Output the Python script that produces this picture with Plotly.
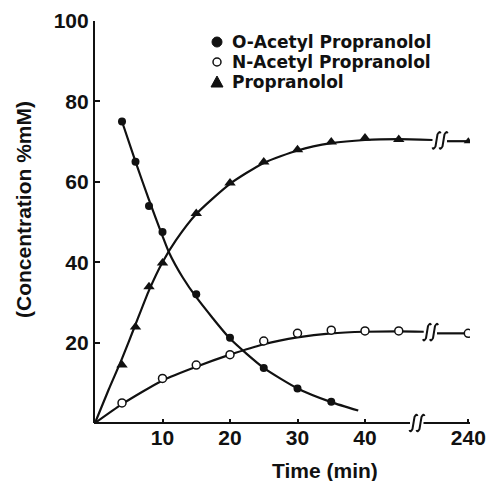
import plotly.graph_objects as go

# ---------------- data ----------------
# measured points (time in min, concentration %mM)
time_o = [4, 6, 8, 10, 15, 20, 25, 30, 35]
o_acetyl = [75, 65, 54, 47.5, 32, 21.2, 13.7, 8.6, 5.3]

time_n = [4, 10, 15, 20, 25, 30, 35, 40, 45]
n_acetyl = [5.0, 11.1, 14.4, 17.0, 20.4, 22.3, 23.1, 22.9, 22.9]

time_p = [4, 6, 8, 10, 15, 20, 25, 30, 35, 40, 45]
propranolol = [14.4, 23.9, 33.9, 39.8, 52.1, 59.7, 64.9, 68.0, 69.9, 70.9, 70.5]

# values at the late time point (beyond the axis break)
time_late = [240]
n_acetyl_late = [22.3]
propranolol_late = [70.1]

# fitted curves as drawn in the reference
fit_o_t = [4, 6, 8, 10, 11, 13, 15, 20, 25, 30, 35, 39]
fit_o_y = [75, 65, 55.5, 46.5, 42.3, 36.2, 31.3, 21.0, 13.7, 8.6, 5.2, 3.1]
fit_p_t = [0, 2, 4, 6, 8, 10, 12, 15, 20, 25, 30, 35, 40, 45, 50]
fit_p_y = [0, 8.2, 16, 24.5, 33, 40, 45.5, 52, 59.5, 64.7, 67.8, 69.6, 70.4, 70.6, 70.4]
fit_n_t = [0, 4, 10, 15, 20, 25, 30, 35, 40, 45, 48.7]
fit_n_y = [0, 4.7, 10.6, 14.0, 17.0, 19.6, 21.3, 22.3, 22.7, 22.8, 22.7]

y_ticks = [20, 40, 60, 80, 100]
x_ticks = [10, 20, 30, 40]
x_ticks_late = [240]
legend_names = ["O-Acetyl Propranolol", "N-Acetyl Propranolol", "Propranolol"]

# ---------------- layout geometry (pixels) ----------------
W, H = 487, 481
L, R, T, B = 95, 17, 21, 58
PW = W - L - R
PH = H - T - B
PXU = 6.75  # pixels per minute on both x pieces


def pxx(px):
    return (px - L) / PW


def pxy(py):
    return (H - B - py) / PH


X1_END = 433.5
X2_START = 410
X2_MAX = 240 + (470 - 468.3) / PXU

FONT = "Liberation Sans, Arial, Helvetica, sans-serif"
LEG_FONT = "DejaVu Sans, Liberation Sans, Arial, sans-serif"
BLACK = "#111111"
LW = 2.2

fig = go.Figure()

line_style = dict(color=BLACK, width=LW, shape="spline", smoothing=0.6)
fig.add_trace(go.Scatter(x=fit_o_t, y=fit_o_y, mode="lines", line=line_style,
                         hoverinfo="skip", showlegend=False))
fig.add_trace(go.Scatter(x=fit_p_t, y=fit_p_y, mode="lines", line=line_style,
                         hoverinfo="skip", showlegend=False))
fig.add_trace(go.Scatter(x=fit_n_t, y=fit_n_y, mode="lines", line=line_style,
                         hoverinfo="skip", showlegend=False))

# post-break segments (from the break glyph to the 240-min value)
P_RESUME = X2_MAX - (470 - 447) / PXU
N_RESUME = X2_MAX - (470 - 437) / PXU
fig.add_trace(go.Scatter(x=[P_RESUME, time_late[0]], y=[propranolol_late[0]] * 2,
                         mode="lines", line=dict(color=BLACK, width=LW),
                         xaxis="x2", yaxis="y", hoverinfo="skip", showlegend=False))
fig.add_trace(go.Scatter(x=[N_RESUME, time_late[0]], y=[n_acetyl_late[0]] * 2,
                         mode="lines", line=dict(color=BLACK, width=LW),
                         xaxis="x2", yaxis="y", hoverinfo="skip", showlegend=False))

# markers
fig.add_trace(go.Scatter(x=time_o, y=o_acetyl, mode="markers", name=legend_names[0],
                         marker=dict(symbol="circle", size=8, color=BLACK),
                         showlegend=False))
fig.add_trace(go.Scatter(x=time_n, y=n_acetyl, mode="markers", name=legend_names[1],
                         marker=dict(symbol="circle", size=8, color="white",
                                     line=dict(color=BLACK, width=1.5)),
                         showlegend=False))
fig.add_trace(go.Scatter(x=time_p, y=propranolol, mode="markers", name=legend_names[2],
                         marker=dict(symbol="triangle-up", size=10, color=BLACK),
                         showlegend=False))
fig.add_trace(go.Scatter(x=time_late, y=n_acetyl_late, mode="markers", xaxis="x2", yaxis="y",
                         marker=dict(symbol="circle", size=8, color="white",
                                     line=dict(color=BLACK, width=1.5)),
                         showlegend=False))
fig.add_trace(go.Scatter(x=time_late, y=propranolol_late, mode="markers", xaxis="x2", yaxis="y",
                         marker=dict(symbol="triangle-up", size=8, color=BLACK),
                         showlegend=False))

shapes = []
# x-axis line in two pieces
shapes.append(dict(type="line", xref="paper", yref="paper", x0=pxx(L - 1), x1=pxx(410), y0=0, y1=0,
                   line=dict(color=BLACK, width=LW)))
shapes.append(dict(type="line", xref="paper", yref="paper", x0=pxx(423.5), x1=pxx(470), y0=0, y1=0,
                   line=dict(color=BLACK, width=LW)))

GLYPH = "M 4,7 Q 3,10 1,6 L -1,-6 Q -3,-10 -4,-7"


def break_glyph(px, yanchor, yref):
    return dict(type="path", xref="paper", xsizemode="pixel", xanchor=pxx(px),
                yref=yref, ysizemode="pixel", yanchor=yanchor, path=GLYPH,
                line=dict(color=BLACK, width=2))


for px in (413.5, 420.5):
    shapes.append(break_glyph(px, 0, "paper"))
for px in (427, 434):
    shapes.append(break_glyph(px, n_acetyl_late[0] + 0.3, "y"))
for px in (436.5, 443.5):
    shapes.append(break_glyph(px, propranolol_late[0] + 0.2, "y"))

# legend symbols
LX = pxx(217)
LEG_FS = 17
legend_py = [42, 62, 82]
legend_y = [pxy(p) for p in legend_py]
shapes.append(dict(type="circle", xref="paper", yref="paper", xsizemode="pixel", ysizemode="pixel",
                   xanchor=LX, yanchor=legend_y[0], x0=-5, x1=5, y0=-5, y1=5,
                   fillcolor=BLACK, line=dict(color=BLACK, width=1)))
shapes.append(dict(type="circle", xref="paper", yref="paper", xsizemode="pixel", ysizemode="pixel",
                   xanchor=LX, yanchor=legend_y[1], x0=-4, x1=4, y0=-4, y1=4,
                   fillcolor="white", line=dict(color=BLACK, width=1.5)))
shapes.append(dict(type="path", xref="paper", yref="paper", xsizemode="pixel", ysizemode="pixel",
                   xanchor=LX, yanchor=legend_y[2], path="M -6,-5 L 6,-5 L 0,6 Z",
                   fillcolor=BLACK, line=dict(color=BLACK, width=1)))

annotations = []
for name, yy in zip(legend_names, legend_y):
    annotations.append(dict(text=name, xref="paper", yref="paper", x=pxx(231), y=yy,
                            xanchor="left", yanchor="middle", showarrow=False, borderpad=0,
                            font=dict(family=LEG_FONT, size=LEG_FS, color=BLACK, weight="bold")))
annotations.append(dict(text="Time (min)", xref="paper", yref="paper", x=pxx(325), y=pxy(470),
                        xanchor="center", yanchor="middle", showarrow=False,
                        font=dict(family=FONT, size=21, color=BLACK, weight="bold")))
annotations.append(dict(text="(Concentration %mM)", xref="paper", yref="paper", x=pxx(23), y=pxy(210),
                        xanchor="center", yanchor="middle", textangle=-90, showarrow=False,
                        font=dict(family=FONT, size=21, color=BLACK, weight="bold")))

tickfont = dict(family=FONT, size=21, color=BLACK, weight="bold")
fig.update_layout(
    width=W, height=H,
    margin=dict(l=L, r=R, t=T, b=B, pad=0, autoexpand=False),
    paper_bgcolor="white", plot_bgcolor="rgba(0,0,0,0)",
    showlegend=False,
    xaxis=dict(domain=[0, pxx(X1_END)], range=[0, (X1_END - L) / PXU],
               tickvals=x_ticks, ticktext=[str(v) for v in x_ticks],
               ticks="inside", ticklen=4, tickwidth=2, tickcolor=BLACK,
               showline=False, showgrid=False, zeroline=False, tickfont=tickfont,
               anchor="y", automargin=False),
    xaxis2=dict(domain=[pxx(X2_START), 1], range=[X2_MAX - (470 - X2_START) / PXU, X2_MAX],
                tickvals=x_ticks_late, ticktext=[str(v) for v in x_ticks_late],
                ticks="inside", ticklen=4, tickwidth=2, tickcolor=BLACK,
                showline=False, showgrid=False, zeroline=False, tickfont=tickfont,
                anchor="y", automargin=False),
    yaxis=dict(domain=[0, 1], range=[0, 100], tickvals=y_ticks,
               ticks="inside", ticklen=5, tickwidth=2, tickcolor=BLACK,
               showline=True, linewidth=LW, linecolor=BLACK,
               showgrid=False, zeroline=False, tickfont=tickfont, automargin=False),
    shapes=shapes,
    annotations=annotations,
)

fig.write_html("out.html")
